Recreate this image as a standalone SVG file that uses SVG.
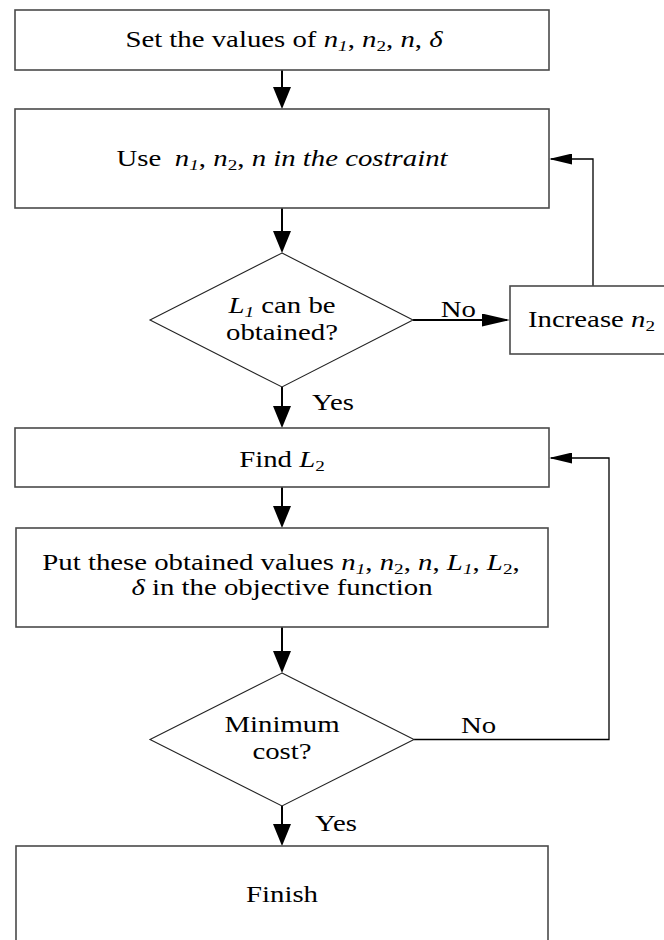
<svg xmlns="http://www.w3.org/2000/svg" width="664" height="940" viewBox="0 0 664 940">
  <style>
    .box { fill: #ffffff; stroke: #4a4a4a; stroke-width: 1.6; }
    .dia { fill: #ffffff; stroke: #222222; stroke-width: 1.1; }
    .flow { fill: none; stroke: #000000; stroke-width: 2; }
    .back { fill: none; stroke: #000000; stroke-width: 1.3; }
    text { font-family: "Liberation Serif", "Times New Roman", serif; font-size: 22.5px; fill: #000000; }
    .c { text-anchor: middle; }
    .i { font-style: italic; }
    .s { font-size: 15px; }
  </style>
  <defs>
    <marker id="headV" markerUnits="userSpaceOnUse" markerWidth="22" markerHeight="18" refX="18" refY="9" orient="auto">
      <path d="M0,0 L22,9 L0,18 Z" fill="#000"/>
    </marker>
    <marker id="headNo" markerUnits="userSpaceOnUse" markerWidth="28" markerHeight="13" refX="25" refY="6.5" orient="auto">
      <path d="M0,0 L28,6.5 L0,13 Z" fill="#000"/>
    </marker>
    <marker id="headBack" markerUnits="userSpaceOnUse" markerWidth="23" markerHeight="11" refX="21" refY="5.5" orient="auto">
      <path d="M0,0 L23,5.5 L0,11 Z" fill="#000"/>
    </marker>
  </defs>

  <!-- connectors -->
  <g id="connectors">
    <path class="flow" d="M282,70 V105" marker-end="url(#headV)"/>
    <path class="flow" d="M282,208 V249" marker-end="url(#headV)"/>
    <path class="flow" d="M282,387 V424" marker-end="url(#headV)"/>
    <path class="flow" d="M282,487 V524" marker-end="url(#headV)"/>
    <path class="flow" d="M282,627 V669" marker-end="url(#headV)"/>
    <path class="flow" d="M282,806 V842" marker-end="url(#headV)"/>
    <path class="flow" d="M413,320 H507" marker-end="url(#headNo)"/>
    <path class="back" d="M593,286 V159 H551" marker-end="url(#headBack)"/>
    <path class="back" d="M414,739.5 H609 V458 H551" marker-end="url(#headBack)"/>
    <text transform="translate(476 317) scale(1.28 1)" text-anchor="end">No</text>
    <text transform="translate(312 410) scale(1.28 1)">Yes</text>
    <text transform="translate(461 733) scale(1.28 1)">No</text>
    <text transform="translate(315 831) scale(1.28 1)">Yes</text>
  </g>

  <g id="set-values">
    <rect class="box" x="15" y="10" width="534" height="60"/>
    <text class="c" transform="translate(284 47) scale(1.28 1)">Set the values of <tspan class="i">n</tspan><tspan class="i s" dy="4">1</tspan><tspan dy="-4">, </tspan><tspan class="i">n</tspan><tspan class="s" dy="4">2</tspan><tspan dy="-4">, </tspan><tspan class="i">n</tspan>, <tspan class="i">δ</tspan></text>
  </g>

  <g id="use-constraint">
    <rect class="box" x="15" y="109" width="534" height="99"/>
    <text class="c" transform="translate(282 166) scale(1.28 1)">Use <tspan class="i" dx="5">n</tspan><tspan class="i s" dy="4">1</tspan><tspan dy="-4">, </tspan><tspan class="i">n</tspan><tspan class="s" dy="4">2</tspan><tspan dy="-4">, </tspan><tspan class="i">n in the costraint</tspan></text>
  </g>

  <g id="l1-decision">
    <polygon class="dia" points="282,253 413,320 282,387 150,320"/>
    <text class="c" transform="translate(282 313) scale(1.28 1)"><tspan class="i">L</tspan><tspan class="i s" dy="4">1</tspan><tspan dy="-4"> can be</tspan></text>
    <text class="c" transform="translate(282 340) scale(1.28 1)">obtained?</text>
  </g>

  <g id="increase-n2">
    <rect class="box" x="510" y="286" width="160" height="68"/>
    <text transform="translate(528 327) scale(1.28 1)">Increase <tspan class="i">n</tspan><tspan class="s" dy="4">2</tspan></text>
  </g>

  <g id="find-l2">
    <rect class="box" x="15" y="428" width="534" height="59"/>
    <text class="c" transform="translate(282 467) scale(1.28 1)">Find <tspan class="i">L</tspan><tspan class="s" dy="4">2</tspan></text>
  </g>

  <g id="objective">
    <rect class="box" x="16" y="528" width="532" height="99"/>
    <text class="c" transform="translate(281 570) scale(1.28 1)">Put these obtained values <tspan class="i">n</tspan><tspan class="i s" dy="4">1</tspan><tspan dy="-4">, </tspan><tspan class="i">n</tspan><tspan class="s" dy="4">2</tspan><tspan dy="-4">, </tspan><tspan class="i">n</tspan>, <tspan class="i">L</tspan><tspan class="i s" dy="4">1</tspan><tspan dy="-4">, </tspan><tspan class="i">L</tspan><tspan class="s" dy="4">2</tspan><tspan dy="-4">,</tspan></text>
    <text class="c" transform="translate(282 595) scale(1.28 1)"><tspan class="i">δ</tspan> in the objective function</text>
  </g>

  <g id="min-cost">
    <polygon class="dia" points="282,673 414,739.5 282,806 150,739.5"/>
    <text class="c" transform="translate(282 732) scale(1.28 1)">Minimum</text>
    <text class="c" transform="translate(282 759) scale(1.28 1)">cost?</text>
  </g>

  <g id="finish">
    <rect class="box" x="16" y="846" width="532" height="100"/>
    <text class="c" transform="translate(282 902) scale(1.28 1)">Finish</text>
  </g>
</svg>
